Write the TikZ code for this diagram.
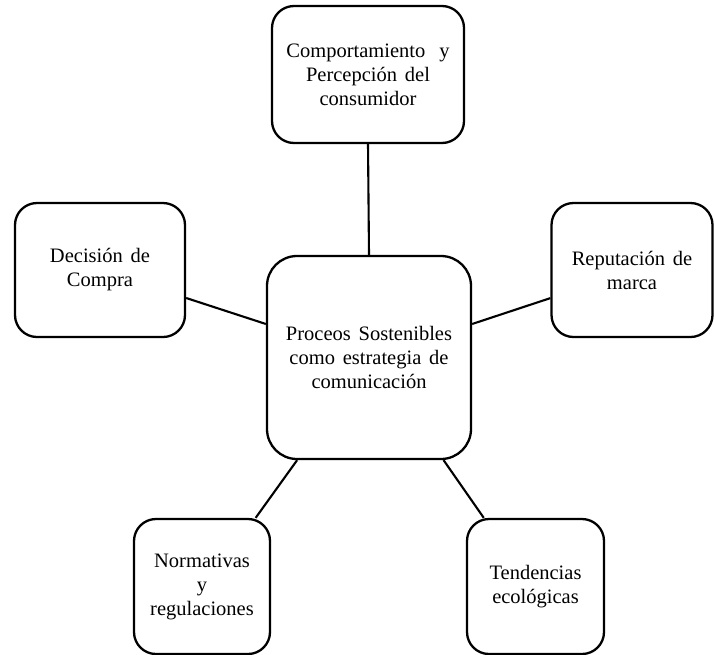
\documentclass[tikz,border=0pt]{standalone}
\usepackage{fontspec}
\setmainfont{Liberation Serif}
\newcommand{\myboxfont}{\fontsize{20.5}{24}\selectfont\spaceskip=0.38em plus 0.1em\relax}
\begin{document}
\begin{tikzpicture}[x=1pt,y=-1pt,
  box/.style={draw=black,line width=2.3pt,rounded corners=22pt,align=center,
    inner sep=0pt,font=\myboxfont},
  link/.style={draw=black,line width=2.1pt}]
\useasboundingbox (0,0) rectangle (714,654);
\node[box,minimum width=192pt,minimum height=137pt] (top) at (368,74.5)
  {Comportamiento\hspace{14pt}y\\Percepción del\\consumidor};
\node[box,minimum width=170pt,minimum height=134pt] (left) at (100,270)
  {Decisión de\\Compra};
\node[box,minimum width=161pt,minimum height=134pt] (right) at (632,270)
  {Reputación de\\marca};
\node[box,rounded corners=30pt,minimum width=204pt,minimum height=203pt] (center) at (369,357.5)
  {Proceos Sostenibles\\como estrategia de\\comunicación};
\node[box,minimum width=136pt,minimum height=135pt] (bl) at (202,586.5)
  {Normativas\\y\\regulaciones};
\node[box,minimum width=137pt,minimum height=135pt] (br) at (535.5,586.5)
  {Tendencias\\ecológicas};
\draw[link] (top.south) -- (center.north);
\draw[link] (left.-18) -- (center.162);
\draw[link] (right.199) -- (center.18);
\draw[link] (bl.52) -- (center.235);
\draw[link] (br.127) -- (center.-54);
\end{tikzpicture}
\end{document}
